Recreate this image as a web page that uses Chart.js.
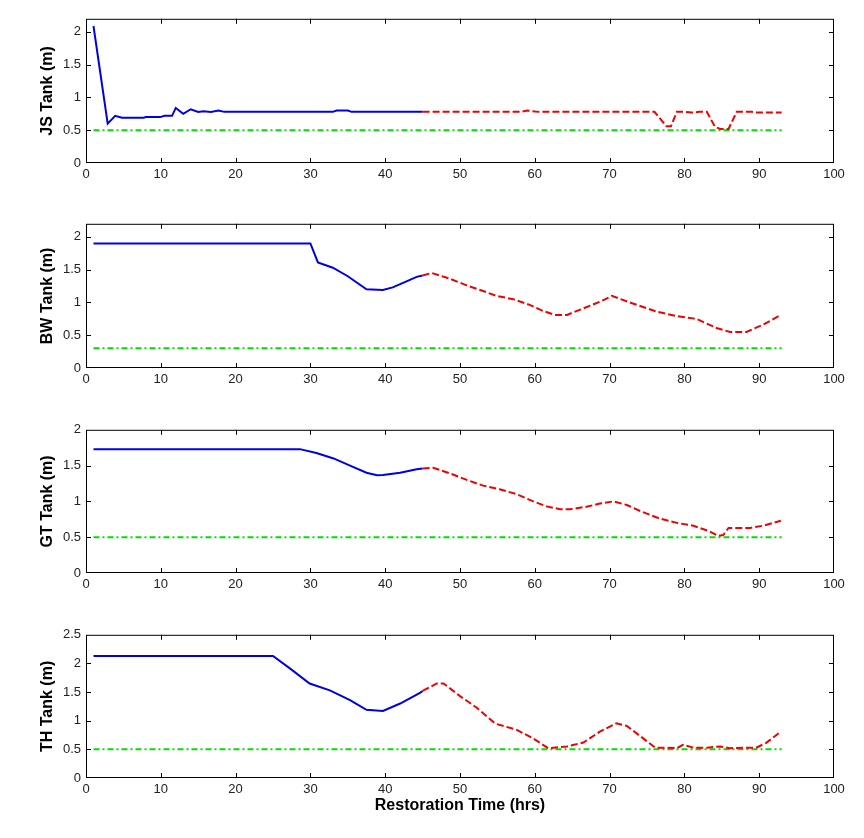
<!DOCTYPE html>
<html>
<head>
<meta charset="utf-8">
<script src="https://cdn.jsdelivr.net/npm/chart.js@4.4.1/dist/chart.umd.min.js"></script>
<style>
  body { margin: 0; background: #fff; }
  canvas { position: absolute; left: 0; }
</style>
</head>
<body>
<canvas id="jsTank"></canvas>
<canvas id="bwTank"></canvas>
<canvas id="gtTank"></canvas>
<canvas id="thTank"></canvas>
<script>
// hours axis
const hourTicks = [0, 10, 20, 30, 40, 50, 60, 70, 80, 90, 100];
const thresholdHours = [1, 93];

// JS tank
const jsTicks = [0, 0.5, 1, 1.5, 2];
const jsBlueHours = [1, 2.9, 3.9, 4.8, 7.7, 8, 9.9, 10.5, 11.5, 12, 13, 14, 15, 15.7, 16.7, 17.7, 18.5, 33, 33.5, 35, 35.5, 45];
const jsBlueLevel = [2.09, 0.60, 0.72, 0.69, 0.69, 0.70, 0.70, 0.72, 0.72, 0.84, 0.75, 0.82, 0.78, 0.79, 0.78, 0.80, 0.78, 0.78, 0.80, 0.80, 0.78, 0.78];
const jsRedHours = [45, 58, 59, 60.5, 76, 77.6, 78.2, 79, 80, 81, 82, 83, 84.1, 84.8, 85.9, 87, 89, 89.5, 93];
const jsRedLevel = [0.78, 0.78, 0.80, 0.78, 0.78, 0.56, 0.56, 0.78, 0.78, 0.77, 0.78, 0.78, 0.55, 0.52, 0.52, 0.78, 0.78, 0.77, 0.77];
const jsMin = 0.5;

// BW tank
const bwTicks = [0, 0.5, 1, 1.5, 2];
const bwBlueHours = [1, 30, 31, 33, 35, 37.5, 39.7, 41, 42, 43, 44.2, 45];
const bwBlueLevel = [1.90, 1.90, 1.61, 1.53, 1.40, 1.20, 1.19, 1.23, 1.28, 1.33, 1.39, 1.41];
const bwRedHours = [45, 46.2, 48.7, 50.9, 52.7, 54.9, 57.1, 59.4, 61.1, 62.7, 64.3, 66.5, 68.7, 70.3, 73.2, 76.3, 79, 81.6, 84.3, 86.1, 88.3, 90.5, 92.9];
const bwRedLevel = [1.41, 1.45, 1.36, 1.26, 1.19, 1.10, 1.05, 0.96, 0.87, 0.81, 0.81, 0.91, 1.01, 1.10, 0.98, 0.86, 0.79, 0.75, 0.61, 0.55, 0.55, 0.66, 0.81];
const bwMin = 0.3;

// GT tank
const gtTicks = [0, 0.5, 1, 1.5, 2];
const gtBlueHours = [1, 28.6, 30.8, 33.1, 35.3, 37.5, 38.9, 39.7, 42, 44.2, 45];
const gtBlueLevel = [1.73, 1.73, 1.675, 1.60, 1.50, 1.40, 1.365, 1.37, 1.40, 1.45, 1.46];
const gtRedHours = [45, 46.4, 48.7, 50.9, 53.1, 55.3, 57.6, 59.8, 61.6, 63.4, 64.7, 66.9, 68.7, 70.5, 72.3, 74.1, 76.7, 79, 81.2, 83.4, 84.5, 85.2, 85.9, 88.8, 90.5, 92.9];
const gtRedLevel = [1.46, 1.47, 1.39, 1.30, 1.22, 1.17, 1.10, 1.00, 0.93, 0.89, 0.89, 0.925, 0.97, 1.00, 0.95, 0.865, 0.76, 0.70, 0.66, 0.58, 0.52, 0.53, 0.63, 0.63, 0.66, 0.73];
const gtMin = 0.5;

// TH tank
const thTicks = [0, 0.5, 1, 1.5, 2, 2.5];
const thBlueHours = [1, 25, 27.3, 29.9, 32.6, 35.3, 37.5, 39.7, 42, 44.7, 45];
const thBlueLevel = [2.13, 2.13, 1.91, 1.65, 1.53, 1.36, 1.19, 1.17, 1.30, 1.49, 1.52];
const thRedHours = [45, 46.9, 47.8, 50, 52.2, 54.7, 57.6, 59.8, 61.8, 64.3, 66.5, 68.7, 70.9, 72.3, 74.1, 76.1, 77.6, 79, 79.8, 81.2, 83, 84.8, 86.1, 88.3, 89.6, 90.9, 92.9];
const thRedLevel = [1.52, 1.65, 1.65, 1.43, 1.23, 0.95, 0.84, 0.69, 0.52, 0.55, 0.62, 0.81, 0.955, 0.91, 0.73, 0.53, 0.53, 0.52, 0.58, 0.53, 0.53, 0.55, 0.52, 0.53, 0.53, 0.61, 0.81];
const thMin = 0.5;

const FONT = "'Liberation Sans', Arial, sans-serif";

const toPoints = (xs, ys) => xs.map((x, i) => ({ x, y: ys[i] }));

// MATLAB style axes box with inward ticks
const matlabBox = {
  id: "matlabBox",
  afterDatasetsDraw(chart) {
    const { ctx, chartArea: a, scales } = chart;
    const tick = 5;
    ctx.save();
    ctx.strokeStyle = "#000";
    ctx.lineWidth = 1;
    ctx.strokeRect(a.left + 0.5, a.top + 0.5, a.width - 1, a.height - 1);
    ctx.beginPath();
    scales.x.ticks.forEach((t) => {
      const px = Math.round(scales.x.getPixelForValue(t.value)) + 0.5;
      if (px <= a.left + 1 || px >= a.right - 1) return;
      ctx.moveTo(px, a.bottom); ctx.lineTo(px, a.bottom - tick);
      ctx.moveTo(px, a.top); ctx.lineTo(px, a.top + tick);
    });
    scales.y.ticks.forEach((t) => {
      const py = Math.round(scales.y.getPixelForValue(t.value)) + 0.5;
      if (py <= a.top + 1 || py >= a.bottom - 1) return;
      ctx.moveTo(a.left, py); ctx.lineTo(a.left + tick, py);
      ctx.moveTo(a.right, py); ctx.lineTo(a.right - tick, py);
    });
    ctx.stroke();
    ctx.restore();
  },
};

const panels = [
  { id: "jsTank", title: "JS Tank (m)", top: 18, bottom: 163, yMax: 2.2, yTicks: jsTicks,
    blue: [jsBlueHours, jsBlueLevel], red: [jsRedHours, jsRedLevel], min: jsMin },
  { id: "bwTank", title: "BW Tank (m)", top: 223, bottom: 368, yMax: 2.2, yTicks: bwTicks,
    blue: [bwBlueHours, bwBlueLevel], red: [bwRedHours, bwRedLevel], min: bwMin },
  { id: "gtTank", title: "GT Tank (m)", top: 429, bottom: 573, yMax: 2, yTicks: gtTicks,
    blue: [gtBlueHours, gtBlueLevel], red: [gtRedHours, gtRedLevel], min: gtMin },
  { id: "thTank", title: "TH Tank (m)", top: 634, bottom: 778, yMax: 2.5, yTicks: thTicks,
    blue: [thBlueHours, thBlueLevel], red: [thRedHours, thRedLevel], min: thMin,
    xTitle: "Restoration Time (hrs)" },
];

panels.forEach((p) => {
  const padTop = 12;
  const xAxisHeight = p.xTitle ? 40 : 24;
  const canvas = document.getElementById(p.id);
  canvas.width = 864;
  canvas.height = (p.bottom - p.top) + padTop + xAxisHeight;
  canvas.style.top = (p.top - padTop) + "px";

  new Chart(canvas, {
    type: "scatter",
    data: {
      datasets: [
        {
          data: toPoints(p.red[0], p.red[1]),
          showLine: true, borderColor: "#f00000", borderWidth: 2,
          borderDash: [7, 3], pointRadius: 0, tension: 0,
        },
        {
          data: toPoints(p.blue[0], p.blue[1]),
          showLine: true, borderColor: "#0000e8", borderWidth: 2,
          pointRadius: 0, tension: 0,
        },
        {
          data: toPoints(thresholdHours, thresholdHours.map(() => p.min)),
          showLine: true, borderColor: "#00e000", borderWidth: 2,
          borderDash: [6, 3, 2, 3], pointRadius: 0, tension: 0,
        },
      ],
    },
    options: {
      responsive: false,
      animation: false,
      layout: { padding: { top: padTop, bottom: 0, left: 35, right: 30 } },
      plugins: { legend: { display: false }, tooltip: { enabled: false } },
      scales: {
        x: {
          type: "linear", min: 0, max: 100,
          grid: { display: false, drawTicks: false, tickLength: 0 }, border: { display: false },
          afterBuildTicks: (s) => { s.ticks = hourTicks.map((v) => ({ value: v })); },
          afterFit: (s) => { s.height = xAxisHeight; },
          ticks: { padding: 4, color: "#222", font: { family: FONT, size: 13 }, maxRotation: 0,
                   callback: (v) => String(v) },
          title: {
            display: !!p.xTitle, text: p.xTitle || "", color: "#000",
            font: { family: FONT, size: 16, weight: "bold" }, padding: { top: 4, bottom: 3 },
          },
        },
        y: {
          type: "linear", min: 0, max: p.yMax,
          grid: { display: false, drawTicks: false, tickLength: 0 }, border: { display: false },
          afterBuildTicks: (s) => { s.ticks = p.yTicks.map((v) => ({ value: v })); },
          afterFit: (s) => { s.width = 51; },
          ticks: { padding: 5, color: "#222", font: { family: FONT, size: 13 },
                   callback: (v) => String(v) },
          title: {
            display: true, text: p.title, color: "#000",
            font: { family: FONT, size: 16, weight: "bold" }, padding: { top: 3, bottom: 4 },
          },
        },
      },
    },
    plugins: [matlabBox],
  });
});
</script>
</body>
</html>
